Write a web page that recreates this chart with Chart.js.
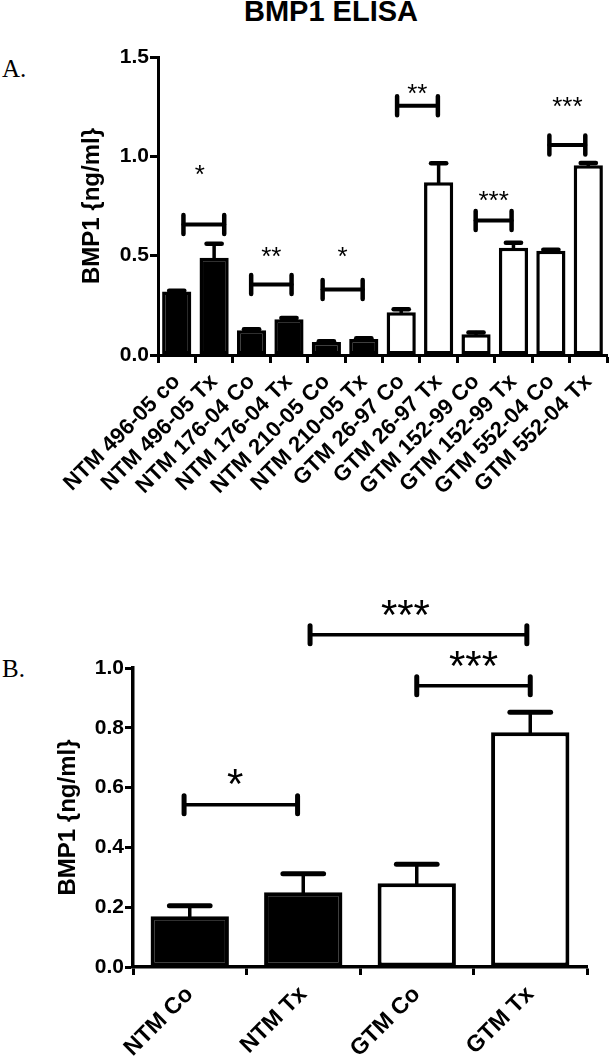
<!DOCTYPE html>
<html>
<head>
<meta charset="utf-8">
<script src="https://cdn.jsdelivr.net/npm/chart.js"></script>
<style>
  body { margin: 0; background: #fff; }
  #page { position: relative; width: 609px; height: 1058px; overflow: hidden; background: #fff; }
  .title { position: absolute; left: 0; top: -3px; width: 662px; text-align: center;
           font: bold 29px/29px "Liberation Sans", Arial, sans-serif; color: #000; }
  .panel { position: absolute; left: 2px; font: 25px/25px "Liberation Serif", "Times New Roman", serif; color: #000; }
  canvas { position: absolute; left: 0; }
</style>
</head>
<body>
<div id="page">
  <div class="title">BMP1 ELISA</div>
  <div class="panel" style="top:56px">A.</div>
  <div class="panel" style="top:656px">B.</div>
  <canvas id="chartA" style="top:30px;width:609px;height:520px"></canvas>
  <canvas id="chartB" style="top:560px;width:609px;height:498px"></canvas>
</div>
<script>
// panel A
const labelsA = ['NTM 496-05 co', 'NTM 496-05 Tx', 'NTM 176-04 Co', 'NTM 176-04 Tx',
                 'NTM 210-05 Co', 'NTM 210-05 Tx', 'GTM 26-97 Co', 'GTM 26-97 Tx',
                 'GTM 152-99 Co', 'GTM 152-99 Tx', 'GTM 552-04 Co', 'GTM 552-04 Tx'];
const meanA = [0.32, 0.49, 0.125, 0.18, 0.065, 0.08, 0.215, 0.87, 0.105, 0.54, 0.525, 0.955];
const semA = [0.004, 0.07, 0.004, 0.006, 0.004, 0.004, 0.015, 0.095, 0.008, 0.025, 0.005, 0.012];
const sigFromA = [0.18, 1.99, 3.9, 5.89, 7.99, 9.96];
const sigToA = [1.27, 3.07, 4.97, 6.98, 8.95, 10.92];
const sigLevelA = [0.657, 0.355, 0.33, 1.255, 0.677, 1.057];
const starXA = [0.62, 2.53, 4.43, 6.43, 8.47, 10.44];
const starLevelA = [0.94, 0.53, 0.53, 1.35, 0.81, 1.285];
const starsA = ['*', '**', '*', '**', '***', '***'];

// panel B
const labelsB = ['NTM Co', 'NTM Tx', 'GTM Co', 'GTM Tx'];
const meanB = [0.17, 0.25, 0.28, 0.785];
const semB = [0.035, 0.062, 0.064, 0.067];
const sigFromB = [-0.05, 1.06, 2.0];
const sigToB = [0.95, 2.97, 3.0];
const sigLevelB = [0.543, 1.111, 0.941];
const starXB = [0.4, 1.9, 2.5];
const starLevelB = [0.646, 1.213, 1.041];
const starsB = ['*', '***', '***'];

Chart.defaults.font.family = '"Liberation Sans", Arial, sans-serif';
Chart.defaults.font.weight = 'bold';
Chart.defaults.color = '#000';

const fillFor = l => l.startsWith('NTM') ? '#000' : '#fff';

// error bars (up only) and significance brackets
const sigPlugin = {
  id: 'sig',
  afterDatasetsDraw(chart, args, o) {
    const ctx = chart.ctx, xs = chart.scales.x, ys = chart.scales.y;
    const bars = chart.getDatasetMeta(0).data;
    ctx.save();
    ctx.strokeStyle = '#000';
    ctx.fillStyle = '#000';
    ctx.lineCap = 'round';
    o.mean.forEach((m, i) => {
      const b = bars[i];
      const y0 = ys.getPixelForValue(m);
      const y1 = ys.getPixelForValue(m + o.sem[i]);
      const half = b.width * 0.26;
      ctx.lineWidth = o.stem;
      ctx.beginPath(); ctx.moveTo(b.x, y0); ctx.lineTo(b.x, y1); ctx.stroke();
      ctx.lineWidth = o.cap;
      ctx.beginPath(); ctx.moveTo(b.x - half, y1); ctx.lineTo(b.x + half, y1); ctx.stroke();
    });
    o.from.forEach((f, i) => {
      const x1 = xs.getPixelForValue(f), x2 = xs.getPixelForValue(o.to[i]);
      const y = ys.getPixelForValue(o.level[i]);
      ctx.lineWidth = o.line;
      ctx.beginPath(); ctx.moveTo(x1, y); ctx.lineTo(x2, y); ctx.stroke();
      ctx.lineWidth = o.cap;
      ctx.beginPath();
      ctx.moveTo(x1, y - o.tick); ctx.lineTo(x1, y + o.tick);
      ctx.moveTo(x2, y - o.tick); ctx.lineTo(x2, y + o.tick);
      ctx.stroke();
      ctx.font = o.starSize + 'px "Liberation Sans", Arial, sans-serif';
      ctx.textAlign = 'center';
      ctx.textBaseline = 'alphabetic';
      ctx.fillText(o.stars[i], xs.getPixelForValue(o.starX[i]),
                   ys.getPixelForValue(o.starAt[i]) + o.starSize * 0.58);
    });
    ctx.restore();
  }
};

function makeChart(id, labels, mean, opts) {
  return new Chart(document.getElementById(id), {
    type: 'bar',
    data: {
      labels: labels,
      datasets: [{
        data: mean,
        backgroundColor: labels.map(fillFor),
        borderColor: '#000',
        borderWidth: opts.border,
        borderSkipped: false,
        categoryPercentage: 1,
        barPercentage: opts.barPct
      }]
    },
    options: {
      responsive: false,
      animation: false,
      layout: { padding: opts.padding },
      plugins: { legend: { display: false }, tooltip: { enabled: false }, sig: opts.sig },
      scales: {
        x: {
          grid: { drawOnChartArea: false, tickLength: 8, tickWidth: 3, color: '#000' },
          border: { color: '#000', width: opts.axis },
          ticks: { autoSkip: false, maxRotation: 45, minRotation: 45, padding: opts.xPad,
                   font: { size: opts.xFont, weight: 'bold' } },
          afterFit: s => { s.height = opts.xHeight; s.paddingLeft = 0; s.paddingRight = 0; }
        },
        y: {
          min: 0, max: opts.max,
          grid: { drawOnChartArea: false, tickLength: 8, tickWidth: 3, color: '#000' },
          border: { color: '#000', width: opts.axis },
          ticks: { stepSize: opts.step, padding: 1, font: { size: 21, weight: 'bold' },
                   callback: v => v.toFixed(1) },
          title: { display: true, text: 'BMP1 {ng/ml}', font: { size: 24, weight: 'bold' } },
          afterFit: s => { s.width = opts.yWidth; s.paddingTop = 0; s.paddingBottom = 0; }
        }
      }
    },
    plugins: [sigPlugin]
  });
}

makeChart('chartA', labelsA, meanA, {
  border: 3.5, barPct: 0.78, axis: 3, max: 1.5, step: 0.5, xFont: 22, xPad: 6,
  padding: { top: 27, left: 74, right: 2, bottom: 0 }, yWidth: 84, xHeight: 195,
  sig: { mean: meanA, sem: semA, from: sigFromA, to: sigToA, level: sigLevelA, starX: starXA,
         starAt: starLevelA, stars: starsA, stem: 3.5, cap: 4.5, line: 4, tick: 9.5, starSize: 26 }
});

makeChart('chartB', labelsB, meanB, {
  border: 4, barPct: 0.69, axis: 3.5, max: 1.0, step: 0.2, xFont: 23, xPad: 6,
  padding: { top: 108, left: 50, right: 22, bottom: 0 }, yWidth: 83, xHeight: 91,
  sig: { mean: meanB, sem: semB, from: sigFromB, to: sigToB, level: sigLevelB, starX: starXB,
         starAt: starLevelB, stars: starsB, stem: 3.5, cap: 5, line: 3.5, tick: 9, starSize: 42 }
});
</script>
</body>
</html>
